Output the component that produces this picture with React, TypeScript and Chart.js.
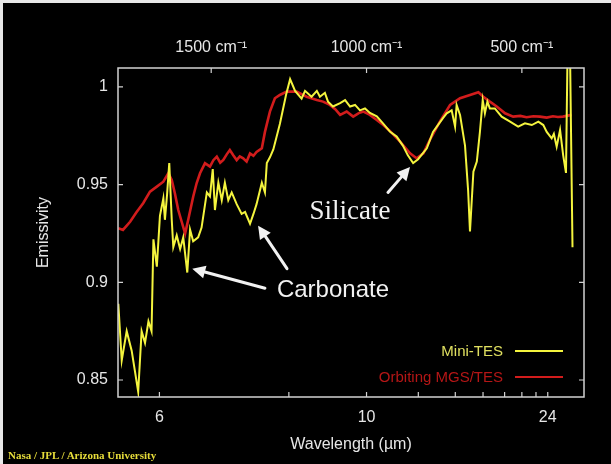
import React, { useEffect, useRef } from "react";
import { Chart, registerables } from "chart.js";

Chart.register(...registerables);

// ---- Data (x = wavenumber in cm^-1, y = emissivity) ----
const MINI_TES_WAVENUMBER = [
  1799, 1788, 1772, 1756, 1735, 1724, 1713, 1702, 1692, 1686, 1675, 1665, 1654, 1649, 1642, 1635,
  1627, 1622, 1611, 1600, 1590, 1577, 1568, 1558, 1542, 1531, 1514, 1504, 1495, 1488, 1477, 1466,
  1456, 1445, 1434, 1418, 1402, 1391, 1375, 1364, 1354, 1337, 1327, 1321, 1311, 1300, 1279, 1259,
  1246, 1230, 1209, 1198, 1177, 1160, 1150, 1134, 1124, 1108, 1085, 1069, 1053, 1037, 1021, 1005,
  989, 967, 947, 924, 903, 883, 867, 850, 834, 806, 786, 754, 742, 726, 715, 710,
  699, 683, 673, 667, 656, 645, 635, 626, 619, 611, 603, 587, 565, 538, 512, 490,
  468, 447, 431, 420, 404, 397, 388, 377, 367, 358, 352, 346, 337,
];
const MINI_TES_EMISSIVITY = [
  0.889, 0.86, 0.875, 0.865, 0.844, 0.875, 0.869, 0.88, 0.875, 0.922, 0.908, 0.934, 0.943, 0.932, 0.945, 0.961,
  0.932, 0.918, 0.924, 0.917, 0.923, 0.905, 0.927, 0.921, 0.923, 0.928, 0.946, 0.944, 0.958, 0.937, 0.951, 0.942,
  0.951, 0.942, 0.946, 0.94, 0.935, 0.936, 0.93, 0.935, 0.94, 0.951, 0.946, 0.961, 0.964, 0.968, 0.981, 0.996,
  1.004, 0.998, 0.994, 0.998, 0.995, 0.998, 0.995, 0.997, 0.9925, 0.99, 0.9917, 0.9933, 0.99, 0.9908, 0.988, 0.989,
  0.9867, 0.985, 0.9814, 0.977, 0.9746, 0.97, 0.965, 0.961, 0.963, 0.9686, 0.977, 0.984, 0.9865, 0.988, 0.9797, 0.9908,
  0.9857, 0.97, 0.947, 0.926, 0.9566, 0.9618, 0.977, 0.9933, 0.9865, 0.9925, 0.989, 0.989, 0.9848, 0.9822, 0.9797, 0.9814,
  0.9805, 0.9822, 0.9805, 0.977, 0.9737, 0.976, 0.9694, 0.978, 0.965, 0.956, 1.03, 1.03, 0.918,
];

const MGS_TES_WAVENUMBER = [
  1799, 1784, 1761, 1740, 1719, 1697, 1675, 1654, 1638, 1627, 1617, 1606, 1595, 1584, 1574, 1558,
  1547, 1536, 1520, 1504, 1493, 1482, 1471, 1461, 1450, 1440, 1429, 1418, 1408, 1397, 1386, 1375,
  1364, 1354, 1337, 1327, 1311, 1295, 1279, 1257, 1225, 1193, 1160, 1140, 1118, 1100, 1085, 1064,
  1043, 1025, 1010, 989, 967, 946, 925, 892, 860, 839, 817, 796, 764, 731, 699, 667,
  640, 624, 603, 581, 554, 528, 505, 485, 463, 442, 420, 400, 384, 368, 340,
];
const MGS_TES_EMISSIVITY = [
  0.9277, 0.9268, 0.931, 0.936, 0.9405, 0.9464, 0.949, 0.9515, 0.9558, 0.9524, 0.9456, 0.937, 0.931, 0.925, 0.932, 0.9438,
  0.9507, 0.9558, 0.961, 0.9592, 0.9625, 0.9643, 0.9612, 0.9626, 0.9655, 0.9677, 0.965, 0.9626, 0.9645, 0.9635, 0.9618, 0.966,
  0.9648, 0.9667, 0.9686, 0.977, 0.9874, 0.9942, 0.9959, 0.9976, 0.9976, 0.995, 0.9933, 0.9925, 0.9908, 0.9885, 0.9857, 0.9874,
  0.9848, 0.9866, 0.9874, 0.9857, 0.9831, 0.9805, 0.9775, 0.972, 0.966, 0.9635, 0.966, 0.9729, 0.9822, 0.9908, 0.9942, 0.9959,
  0.9973, 0.995, 0.9925, 0.99, 0.9865, 0.9848, 0.9852, 0.9845, 0.985, 0.9848, 0.9843, 0.985, 0.9846, 0.9848, 0.9857,
];

const WAVELENGTH_TICKS_UM = [6, 8, 10, 12, 14, 16, 18, 20, 22, 24];
const WAVELENGTH_LABELS_UM = [6, 10, 24];
const WAVENUMBER_TICKS = [1500, 1000, 500];
const EMISSIVITY_TICKS = [0.85, 0.9, 0.95, 1];
const WAVENUMBER_RANGE = [300, 1800];
const EMISSIVITY_RANGE = [0.8413, 1.0097];

const SERIES_LABELS = ["Mini-TES", "Orbiting MGS/TES"];

// annotation texts and arrows, anchored in data coordinates
const NOTE_TEXTS = [
  { text: "Carbonate", x: 1108, y: 0.896, font: "24px 'Liberation Sans', Arial, sans-serif" },
  { text: "Silicate", x: 1053, y: 0.936, font: "27px 'Liberation Serif', 'Times New Roman', serif" },
];
const NOTE_ARROWS = [
  { from: [1327, 0.897], to: [1561, 0.907] },
  { from: [1256, 0.907], to: [1349, 0.929] },
  { from: [931, 0.946], to: [860, 0.959] },
];

const FONT = "'Liberation Sans', Arial, Helvetica, sans-serif";
const TEXT_COLOR = "#e6e6e6";

const framePlugin = {
  id: "frame",
  afterDatasetsDraw(chart: any) {
    const { ctx, chartArea: a, scales } = chart;
    ctx.save();
    ctx.strokeStyle = "#d2d2d2";
    ctx.lineWidth = 1.5;
    ctx.strokeRect(a.left, a.top, a.right - a.left, a.bottom - a.top);
    const L = 5;
    ctx.lineWidth = 1.2;
    ctx.beginPath();
    scales.x.ticks.forEach((t: any) => {
      const p = scales.x.getPixelForValue(t.value);
      ctx.moveTo(p, a.bottom);
      ctx.lineTo(p, a.bottom - L);
    });
    scales.x2.ticks.forEach((t: any) => {
      const p = scales.x2.getPixelForValue(t.value);
      ctx.moveTo(p, a.top);
      ctx.lineTo(p, a.top + L);
    });
    scales.y.ticks.forEach((t: any) => {
      const p = scales.y.getPixelForValue(t.value);
      ctx.moveTo(a.left, p);
      ctx.lineTo(a.left + L, p);
      ctx.moveTo(a.right, p);
      ctx.lineTo(a.right - L, p);
    });
    ctx.stroke();
    ctx.restore();
  },
};

const legendPlugin = {
  id: "innerLegend",
  afterDraw(chart: any) {
    const { ctx, chartArea: a } = chart;
    ctx.save();
    ctx.font = `15px ${FONT}`;
    ctx.textAlign = "right";
    ctx.textBaseline = "middle";
    const rows = [a.bottom - 45, a.bottom - 19];
    chart.data.datasets.forEach((ds: any, i: number) => {
      const y = rows[i];
      ctx.fillStyle = ds.legendTextColor;
      ctx.fillText(ds.label, a.right - 81, y);
      ctx.strokeStyle = ds.borderColor;
      ctx.lineWidth = 2;
      ctx.beginPath();
      ctx.moveTo(a.right - 69, y - 1);
      ctx.lineTo(a.right - 21, y - 1);
      ctx.stroke();
    });
    ctx.restore();
  },
};

const notesPlugin = {
  id: "notes",
  afterDraw(chart: any) {
    const { ctx, scales } = chart;
    const px = (v: number) => scales.x.getPixelForValue(v);
    const py = (v: number) => scales.y.getPixelForValue(v);
    ctx.save();
    ctx.fillStyle = "#f2f2f2";
    ctx.textAlign = "center";
    ctx.textBaseline = "middle";
    NOTE_TEXTS.forEach((n) => {
      ctx.font = n.font;
      ctx.fillText(n.text, px(n.x), py(n.y));
    });
    ctx.strokeStyle = "#f2f2f2";
    ctx.lineWidth = 3;
    ctx.lineCap = "round";
    NOTE_ARROWS.forEach((ar) => {
      const x1 = px(ar.from[0]);
      const y1 = py(ar.from[1]);
      const x2 = px(ar.to[0]);
      const y2 = py(ar.to[1]);
      const ang = Math.atan2(y2 - y1, x2 - x1);
      const head = 13;
      const hw = 6.5;
      const bx = x2 - head * Math.cos(ang);
      const by = y2 - head * Math.sin(ang);
      ctx.beginPath();
      ctx.moveTo(x1, y1);
      ctx.lineTo(bx, by);
      ctx.stroke();
      ctx.beginPath();
      ctx.moveTo(x2, y2);
      ctx.lineTo(bx + hw * Math.sin(ang), by - hw * Math.cos(ang));
      ctx.lineTo(bx - hw * Math.sin(ang), by + hw * Math.cos(ang));
      ctx.closePath();
      ctx.fill();
    });
    ctx.restore();
  },
};

export default function App() {
  const canvasRef = useRef<HTMLCanvasElement | null>(null);

  useEffect(() => {
    if (!canvasRef.current) return;
    const miniTes = MINI_TES_WAVENUMBER.map((x, i) => ({ x, y: MINI_TES_EMISSIVITY[i] }));
    const mgsTes = MGS_TES_WAVENUMBER.map((x, i) => ({ x, y: MGS_TES_EMISSIVITY[i] }));

    const chart = new Chart(canvasRef.current, {
      type: "line",
      data: {
        datasets: [
          {
            label: SERIES_LABELS[0],
            data: miniTes,
            borderColor: "#f4f43e",
            legendTextColor: "#e0e060",
            borderWidth: 2,
            pointRadius: 0,
            tension: 0,
          } as any,
          {
            label: SERIES_LABELS[1],
            data: mgsTes,
            borderColor: "#d21c1c",
            legendTextColor: "#b51616",
            borderWidth: 2.6,
            pointRadius: 0,
            tension: 0,
          } as any,
        ],
      },
      options: {
        animation: false,
        responsive: true,
        maintainAspectRatio: false,
        layout: { padding: { left: 0, right: 27, top: 0, bottom: 0 } },
        plugins: {
          legend: { display: false },
          tooltip: { enabled: false },
        },
        scales: {
          x: {
            type: "linear",
            position: "bottom",
            reverse: true,
            min: WAVENUMBER_RANGE[0],
            max: WAVENUMBER_RANGE[1],
            afterBuildTicks: (scale: any) => {
              scale.ticks = WAVELENGTH_TICKS_UM.map((l) => ({ value: 10000 / l }));
            },
            afterFit: (scale: any) => {
              scale.height = 67;
            },
            grid: { display: false, drawTicks: false },
            border: { display: false },
            ticks: {
              autoSkip: false,
              maxRotation: 0,
              padding: 11,
              color: TEXT_COLOR,
              font: { family: FONT, size: 16 },
              callback: (v: any) => {
                const l = Math.round(10000 / Number(v));
                return WAVELENGTH_LABELS_UM.includes(l) ? String(l) : "";
              },
            },
            title: {
              display: true,
              text: "Wavelength (µm)",
              color: TEXT_COLOR,
              font: { family: FONT, size: 16 },
              padding: { top: 0, bottom: 10 },
            },
          },
          x2: {
            type: "linear",
            position: "top",
            reverse: true,
            min: WAVENUMBER_RANGE[0],
            max: WAVENUMBER_RANGE[1],
            afterBuildTicks: (scale: any) => {
              scale.ticks = WAVENUMBER_TICKS.map((v) => ({ value: v }));
            },
            afterFit: (scale: any) => {
              scale.height = 68;
            },
            grid: { display: false, drawTicks: false },
            border: { display: false },
            ticks: {
              autoSkip: false,
              maxRotation: 0,
              padding: 11,
              color: TEXT_COLOR,
              font: { family: FONT, size: 16 },
              callback: (v: any) => `${v} cm⁻¹`,
            },
          },
          y: {
            type: "linear",
            position: "left",
            min: EMISSIVITY_RANGE[0],
            max: EMISSIVITY_RANGE[1],
            afterBuildTicks: (scale: any) => {
              scale.ticks = EMISSIVITY_TICKS.map((v) => ({ value: v }));
            },
            afterFit: (scale: any) => {
              scale.width = 118;
            },
            grid: { display: false, drawTicks: false },
            border: { display: false },
            ticks: {
              padding: 10,
              color: TEXT_COLOR,
              font: { family: FONT, size: 16 },
              callback: (v: any) => String(Number(v)),
            },
            title: {
              display: true,
              text: "Emissivity",
              color: TEXT_COLOR,
              font: { family: FONT, size: 16 },
              padding: { top: 34, bottom: 0 },
            },
          },
        },
      },
      plugins: [framePlugin, legendPlugin, notesPlugin],
    } as any);

    return () => chart.destroy();
  }, []);

  return (
    <div style={{ position: "fixed", left: 0, top: 0, width: 611, height: 464, background: "#e8e8e8" }}>
      <div style={{ position: "absolute", left: 3, top: 3, width: 608, height: 461, background: "#000" }} />
      <div style={{ position: "absolute", left: 0, top: 0, width: 611, height: 464 }}>
        <canvas ref={canvasRef} />
      </div>
      <div
        style={{
          position: "absolute",
          left: 8,
          top: 449,
          fontFamily: "'Liberation Serif', 'Times New Roman', serif",
          fontWeight: "bold",
          fontSize: 11,
          lineHeight: "12px",
          color: "#e6dc3a",
          whiteSpace: "nowrap",
        }}
      >
        Nasa / JPL / Arizona University
      </div>
    </div>
  );
}
